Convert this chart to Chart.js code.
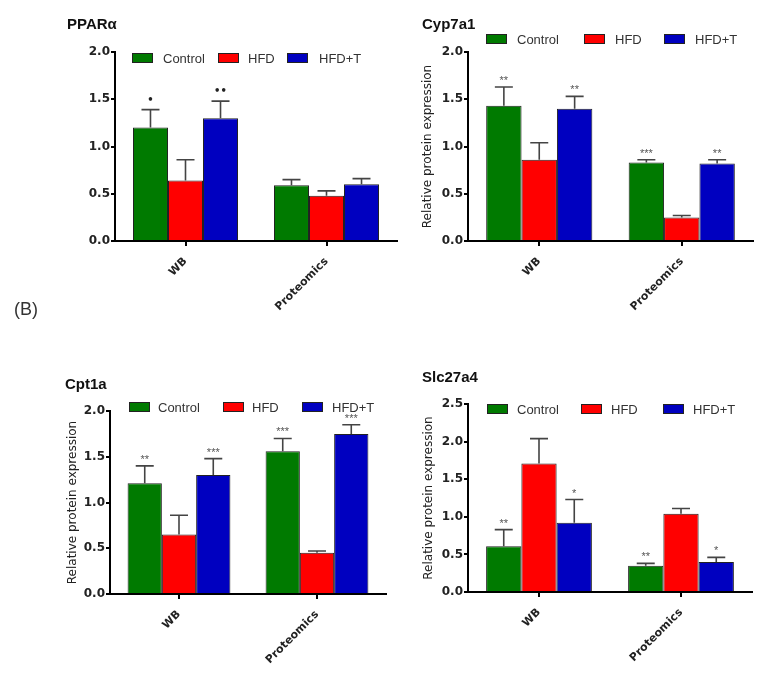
<!DOCTYPE html>
<html>
<head>
<meta charset="utf-8">
<script src="https://cdn.jsdelivr.net/npm/chart.js@4.4.1/dist/chart.umd.min.js"></script>
<style>
body { margin: 0; background: #fff; }
#wrap { position: relative; width: 779px; height: 675px; overflow: hidden; background: #fff; }
canvas { position: absolute; }
#panelB { position: absolute; left: 14px; top: 299px; font: 18px 'Liberation Sans', Arial, sans-serif; color: #333; }
</style>
</head>
<body>
<div id="wrap">
  <canvas id="ppar" width="400" height="330" style="left:0;top:0"></canvas>
  <canvas id="cyp" width="379" height="330" style="left:400px;top:0"></canvas>
  <canvas id="cpt" width="400" height="335" style="left:0;top:340px"></canvas>
  <canvas id="slc" width="379" height="335" style="left:400px;top:340px"></canvas>
  <div id="panelB">(B)</div>
</div>
<script>
// categories and groups
var categories = ['WB', 'Proteomics'];
var groupNames = ['Control', 'HFD', 'HFD+T'];
var groupColors = ['#007a00', '#ff0000', '#0000c0'];

// tick labels
var yTicksA = [0, 0.5, 1.0, 1.5, 2.0];
var yTicksB = [0, 0.5, 1.0, 1.5, 2.0, 2.5];

// PPARa
var pparControl = [1.20, 0.59], pparControlErr = [0.19, 0.06];
var pparHfd = [0.64, 0.48], pparHfdErr = [0.22, 0.05];
var pparHfdT = [1.30, 0.60], pparHfdTErr = [0.18, 0.06];
var pparStars = [['\u2022', ''], ['', ''], ['\u2022\u2022', '']];

// Cyp7a1
var cypControl = [1.43, 0.83], cypControlErr = [0.20, 0.03];
var cypHfd = [0.86, 0.25], cypHfdErr = [0.18, 0.02];
var cypHfdT = [1.40, 0.82], cypHfdTErr = [0.13, 0.04];
var cypStars = [['**', '***'], ['', ''], ['**', '**']];

// Cpt1a
var cptControl = [1.21, 1.56], cptControlErr = [0.19, 0.14];
var cptHfd = [0.65, 0.45], cptHfdErr = [0.21, 0.02];
var cptHfdT = [1.30, 1.75], cptHfdTErr = [0.18, 0.10];
var cptStars = [['**', '***'], ['', ''], ['***', '***']];

// Slc27a4
var slcControl = [0.61, 0.35], slcControlErr = [0.22, 0.03];
var slcHfd = [1.71, 1.04], slcHfdErr = [0.33, 0.07];
var slcHfdT = [0.92, 0.40], slcHfdTErr = [0.31, 0.06];
var slcStars = [['**', '**'], ['', ''], ['*', '*']];

// error bars, stars, panel title and legend drawn on top of the bars
var decorPlugin = {
  id: 'decor',
  afterDatasetsDraw: function (chart) {
    var ctx = chart.ctx;
    var yScale = chart.scales.y;
    ctx.save();
    chart.data.datasets.forEach(function (ds, i) {
      var meta = chart.getDatasetMeta(i);
      meta.data.forEach(function (bar, j) {
        var top = yScale.getPixelForValue(ds.data[j] + ds.errors[j]);
        ctx.strokeStyle = '#444';
        ctx.lineWidth = 1.6;
        ctx.beginPath();
        ctx.moveTo(bar.x, bar.y);
        ctx.lineTo(bar.x, top);
        ctx.moveTo(bar.x - 9, top);
        ctx.lineTo(bar.x + 9, top);
        ctx.stroke();
        var s = ds.stars[j];
        if (s) {
          ctx.textAlign = 'center';
          ctx.textBaseline = 'alphabetic';
          if (s.charAt(0) === '\u2022') {
            ctx.fillStyle = '#222';
            ctx.font = 'bold 10px "DejaVu Sans"';
            ctx.fillText(s, bar.x, top - 7);
          } else {
            ctx.fillStyle = '#555';
            ctx.font = '11px "Liberation Sans"';
            ctx.fillText(s, bar.x, top - 3);
          }
        }
      });
    });
    ctx.restore();
  },
  afterDraw: function (chart) {
    var ctx = chart.ctx;
    var opts = chart.options.plugins.decor;
    ctx.save();
    ctx.fillStyle = '#111';
    ctx.font = 'bold 15px "Liberation Sans"';
    ctx.textAlign = 'left';
    ctx.textBaseline = 'middle';
    ctx.fillText(opts.title, opts.titleX, opts.titleY);
    ctx.font = '13px "Liberation Sans"';
    chart.data.datasets.forEach(function (ds, i) {
      ctx.fillStyle = ds.backgroundColor;
      ctx.fillRect(opts.boxX[i], opts.legendY - 4.5, 20, 9);
      ctx.strokeStyle = '#222';
      ctx.lineWidth = 1;
      ctx.strokeRect(opts.boxX[i] + 0.5, opts.legendY - 4.5, 20, 9);
      ctx.fillStyle = '#333';
      ctx.fillText(ds.label, opts.textX[i], opts.legendY + 1);
    });
    ctx.restore();
  }
};

function makeDatasets(values, errors, stars) {
  return groupNames.map(function (name, i) {
    return {
      label: name,
      data: values[i],
      errors: errors[i],
      stars: stars[i],
      backgroundColor: groupColors[i],
      borderColor: '#222',
      borderWidth: 1,
      barPercentage: 1.0,
      categoryPercentage: 0.745
    };
  });
}

function makeChart(id, p) {
  var ticks = p.yTicks;
  return new Chart(document.getElementById(id).getContext('2d'), {
    type: 'bar',
    data: { labels: categories, datasets: makeDatasets(p.values, p.errors, p.stars) },
    options: {
      responsive: false,
      animation: false,
      events: [],
      layout: { padding: p.padding },
      plugins: {
        legend: { display: false },
        tooltip: { enabled: false },
        decor: p.decor
      },
      scales: {
        x: {
          grid: { drawOnChartArea: false, drawTicks: true, tickLength: 5, color: '#000', lineWidth: 2, offset: false },
          border: { display: true, color: '#000', width: 2 },
          ticks: { color: '#222', font: { family: 'DejaVu Sans', weight: 'bold', size: 11 }, minRotation: 45, maxRotation: 45, padding: 9 },
          afterFit: function (s) { s.height = p.xHeight; }
        },
        y: {
          min: ticks[0],
          max: ticks[ticks.length - 1],
          grid: { drawOnChartArea: false, drawTicks: true, tickLength: 4, color: '#000', lineWidth: 2 },
          border: { display: true, color: '#000', width: 2 },
          ticks: {
            stepSize: ticks[1] - ticks[0],
            padding: 1,
            color: '#222',
            font: { family: 'DejaVu Sans', weight: 'bold', size: 12 },
            callback: function (v) { return v.toFixed(1); }
          },
          title: {
            display: !!p.yTitle,
            text: p.yTitle,
            color: '#222',
            font: { family: 'DejaVu Sans', size: 12 },
            padding: { top: p.yTitlePad, bottom: 0 }
          },
          afterFit: function (s) { s.width = p.yWidth; }
        }
      }
    },
    plugins: [decorPlugin]
  });
}

makeChart('ppar', {
  values: [pparControl, pparHfd, pparHfdT],
  errors: [pparControlErr, pparHfdErr, pparHfdTErr],
  stars: pparStars,
  yTicks: yTicksA,
  padding: { left: 0, top: 52, right: 3, bottom: 0 },
  yWidth: 115, xHeight: 89,
  yTitle: '', yTitlePad: 0,
  decor: { title: 'PPAR\u03b1', titleX: 67, titleY: 25, legendY: 58, boxX: [132, 218, 287], textX: [163, 248, 319] }
});

makeChart('cyp', {
  values: [cypControl, cypHfd, cypHfdT],
  errors: [cypControlErr, cypHfdErr, cypHfdTErr],
  stars: cypStars,
  yTicks: yTicksA,
  padding: { left: 0, top: 52, right: 26, bottom: 0 },
  yWidth: 68, xHeight: 89,
  yTitle: 'Relative protein expression', yTitlePad: 21,
  decor: { title: 'Cyp7a1', titleX: 22, titleY: 25, legendY: 39, boxX: [86, 184, 264], textX: [117, 215, 295] }
});

makeChart('cpt', {
  values: [cptControl, cptHfd, cptHfdT],
  errors: [cptControlErr, cptHfdErr, cptHfdTErr],
  stars: cptStars,
  yTicks: yTicksA,
  padding: { left: 0, top: 71, right: 14, bottom: 0 },
  yWidth: 110, xHeight: 81,
  yTitle: 'Relative protein expression', yTitlePad: 66,
  decor: { title: 'Cpt1a', titleX: 65, titleY: 45, legendY: 67, boxX: [129, 223, 302], textX: [158, 252, 332] }
});

makeChart('slc', {
  values: [slcControl, slcHfd, slcHfdT],
  errors: [slcControlErr, slcHfdErr, slcHfdTErr],
  stars: slcStars,
  yTicks: yTicksB,
  padding: { left: 0, top: 64, right: 27, bottom: 0 },
  yWidth: 68, xHeight: 83,
  yTitle: 'Relative protein expression', yTitlePad: 22,
  decor: { title: 'Slc27a4', titleX: 22, titleY: 38, legendY: 69, boxX: [87, 181, 263], textX: [117, 211, 293] }
});
</script>
</body>
</html>
